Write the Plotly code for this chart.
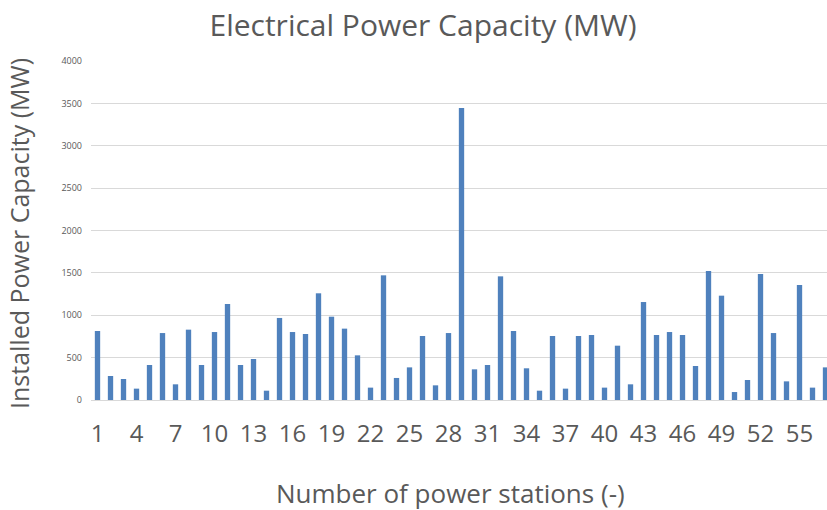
import plotly.graph_objects as go

stations = list(range(1, 58))
capacity_mw = [
    814, 283, 248, 134, 413, 790, 185, 830, 413, 802,
    1133, 413, 484, 110, 968, 802, 779, 1259, 983, 842,
    527, 146, 1471, 260, 385, 755, 173, 790, 3445, 362,
    413, 1459, 814, 374, 110, 755, 134, 755, 767, 146,
    641, 185, 1156, 767, 802, 767, 401, 1522, 1231, 94,
    236, 1487, 790, 220, 1357, 146, 385,
]
x_tick_vals = stations[::3]
x_tick_text = [str(s) for s in x_tick_vals]
y_tick_vals = [0, 500, 1000, 1500, 2000, 2500, 3000, 3500, 4000]

FONT = "Open Sans"
GRAY = "#595959"

W, H = 827, 510
L, T, B = 91, 61, 510 - 400
PW, PH = W - L, H - T - B

fig = go.Figure()
fig.add_trace(go.Bar(
    x=stations, y=capacity_mw,
    marker=dict(color="#4f81bd", line=dict(width=0)),
))

fig.update_layout(
    width=W, height=H,
    margin=dict(l=L, r=0, t=T, b=B, autoexpand=False),
    paper_bgcolor="white", plot_bgcolor="white",
    bargap=0.59,
    showlegend=False,
    title=dict(text="Electrical Power Capacity (MW)", x=423 / W, xref="container",
               xanchor="center", y=1 - 25 / H, yref="container", yanchor="middle",
               font=dict(family=FONT, size=30, color=GRAY)),
    font=dict(family=FONT, color=GRAY),
)
fig.update_xaxes(
    range=[0.5, 0.5 + PW / 13.0],
    tickmode="array", tickvals=x_tick_vals, ticktext=x_tick_text,
    tickfont=dict(family=FONT, size=24, color=GRAY),
    ticks="", ticklen=0, ticklabelstandoff=12,
    showline=True, linecolor="#d9d9d9", linewidth=1,
    showgrid=False, zeroline=False,
)
fig.update_yaxes(
    range=[0, 4000],
    tickmode="array", tickvals=y_tick_vals,
    tickfont=dict(family=FONT, size=9, color=GRAY),
    ticks="", showline=False, ticklabelstandoff=8,
    showgrid=True, gridcolor="#d9d9d9", gridwidth=1,
    zeroline=False,
)
fig.add_annotation(text="Number of power stations (-)", xref="paper", yref="paper",
                   x=(450 - L) / PW, y=-(493 - 400) / PH,
                   xanchor="center", yanchor="middle", showarrow=False,
                   font=dict(family=FONT, size=26, color=GRAY))
fig.add_annotation(text="Installed Power Capacity (MW)", xref="paper", yref="paper",
                   x=-(L - 19) / PW, y=(400 - 234) / PH,
                   xanchor="center", yanchor="middle", textangle=-90, showarrow=False,
                   font=dict(family=FONT, size=25, color=GRAY))

fig.write_html(
    "out.html",
    config={"displayModeBar": False},
    post_script="document.body.style.margin='0';document.body.style.overflow='hidden';",
)
